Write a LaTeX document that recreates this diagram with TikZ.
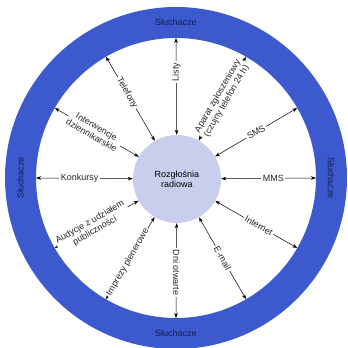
\documentclass[tikz,border=0pt]{standalone}
\usepackage{fontspec}
\setmainfont{Liberation Sans}
\usepackage{tikz}
\usetikzlibrary{arrows.meta}

\definecolor{ringblue}{RGB}{60,90,206}
\definecolor{hubblue}{RGB}{200,206,236}
\definecolor{navytext}{RGB}{20,28,80}

\begin{document}
\begin{tikzpicture}[
    font=\fontsize{9}{10}\selectfont,
    channel/.style={{Stealth[length=5pt,width=3.6pt]}-{Stealth[length=5pt,width=3.6pt]}, line width=0.5pt},
    tag/.style={fill=white, inner sep=1.5pt, align=center, text=black!85},
    listener/.style={text=navytext}
]
            \useasboundingbox (-176pt,-170pt) rectangle (172pt,178pt);

            % Define the ring of listeners
            \fill[ringblue, even odd rule] (0,0) circle (171pt) (0,0) circle (140pt);
            \node[listener] (top) at (90:155.5pt) {Słuchacze};
            \node[listener, rotate=90] (left) at (180:155.5pt) {Słuchacze};
            \node[listener, rotate=-90] (right) at (0:155pt) {Słuchacze};
            \node[listener] (bottom) at (270:155pt) {Słuchacze};

            % Define the station
            \node[circle, fill=hubblue, minimum size=88pt, inner sep=0pt, align=center] (radio) at (1pt,-1pt) {Rozgłośnia\\radiowa};

            % Define the ends on the ring
            \foreach \a in {0,30,...,330}
                \coordinate (r\a) at (\a:140pt);

            % Draw channels
            \draw[channel] (radio) -- (r0) node[tag, pos=.55] {MMS};
            \draw[channel] (radio) -- (r30) node[tag, pos=.5, rotate=30] {SMS};
            \draw[channel] (radio) -- (r60) node[tag, pos=.5, rotate=60] {Aparat zgłoszeniowy\\(czujny telefon 24 h)};
            \draw[channel] (radio) -- (r90) node[tag, pos=.65, rotate=90] {Listy};
            \draw[channel] (radio) -- (r120) node[tag, pos=.57, rotate=-60] {Telefony};
            \draw[channel] (radio) -- (r150) node[tag, pos=.53, rotate=-30] {Interwencje\\dziennikarskie};
            \draw[channel] (radio) -- (r180) node[tag, pos=.55] {Konkursy};
            \draw[channel] (radio) -- (r210) node[tag, pos=.55, rotate=30] {Audycje z udziałem\\publiczności};
            \draw[channel] (radio) -- (r240) node[tag, pos=.55, rotate=60] {Imprezy plenerowe};
            \draw[channel] (radio) -- (r270) node[tag, pos=.52, rotate=-90] {Dni otwarte};
            \draw[channel] (radio) -- (r300) node[tag, pos=.5, rotate=-60] {E-mail};
            \draw[channel] (radio) -- (r330) node[tag, pos=.53, rotate=-30] {Internet};
        \end{tikzpicture}
\end{document}
